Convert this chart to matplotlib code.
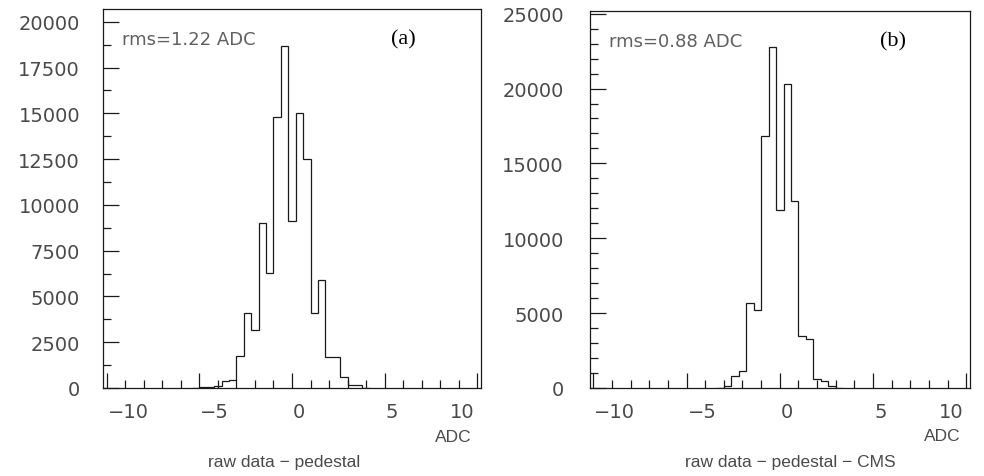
import numpy as np
import matplotlib
matplotlib.use("Agg")
import matplotlib.pyplot as plt
from matplotlib.ticker import MultipleLocator, FixedLocator
from matplotlib.transforms import ScaledTranslation

# ---------------- data ----------------
bin_width = 0.4
x_limits = (-10.2, 10.2)
x_ticks = [-10, -5, 0, 5, 10]
x_tick_labels = ["\u221210", "\u22125", "0", "5", "10"]

# panel (a): raw data - pedestal
a_centers = [-5.2, -4.8, -4.4, -4.0, -3.6, -3.2, -2.8, -2.4, -2.0, -1.6, -1.2, -0.8,
             -0.4, 0.0, 0.4, 0.8, 1.2, 1.6, 2.0, 2.4, 2.8, 3.2, 3.6, 4.0]
a_counts = [10, 30, 60, 120, 380, 420, 1740, 4080, 3160, 9010, 6270, 14780,
            18700, 9140, 15040, 12500, 4120, 5890, 1690, 1690, 590, 140, 140, 20]
a_ymax = 20700
a_yticks = [0, 2500, 5000, 7500, 10000, 12500, 15000, 17500, 20000]
a_rms_text = "rms=1.22 ADC"
a_tag = "(a)"
a_xlabel = "raw data \u2212 pedestal"

# panel (b): raw data - pedestal - CMS
b_centers = [-3.2, -2.8, -2.4, -2.0, -1.6, -1.2, -0.8, -0.4, 0.0, 0.4, 0.8, 1.2,
             1.6, 2.0, 2.4, 2.8, 3.2]
b_counts = [20, 100, 820, 1120, 5650, 5200, 16840, 22800, 11880, 20290, 12460, 3470,
            3290, 600, 450, 120, 30]
b_ymax = 25200
b_yticks = [0, 5000, 10000, 15000, 20000, 25000]
b_rms_text = "rms=0.88 ADC"
b_tag = "(b)"
b_xlabel = "raw data \u2212 pedestal \u2212 CMS"

unit_label = "ADC"

# ---------------- style ----------------
DPI = 100
fig = plt.figure(figsize=(9.84, 4.77), dpi=DPI)
line_col = "#1a1a1a"
text_col = "#4a4a4a"
num_font = "DejaVu Sans"
lab_font = "Liberation Sans"


def make_panel(rect, centers, counts, ymax, yticks, yminor, rms_text, tag,
               ylab_pad, tag_pos):
    ax = fig.add_axes(rect)
    c = np.asarray(centers, dtype=float)
    edges = np.append(c - bin_width / 2, c[-1] + bin_width / 2)
    ax.stairs(counts, edges, baseline=0, color=line_col, lw=0.9)
    ax.set_xlim(*x_limits)
    ax.set_ylim(0, ymax)
    for s in ax.spines.values():
        s.set_linewidth(0.9)
        s.set_color(line_col)

    ax.xaxis.set_major_locator(FixedLocator(x_ticks))
    ax.set_xticklabels(x_tick_labels)
    ax.xaxis.set_minor_locator(MultipleLocator(1))
    ax.yaxis.set_major_locator(FixedLocator(yticks))
    ax.set_yticklabels([str(v) for v in yticks])
    ax.yaxis.set_minor_locator(MultipleLocator(yminor))

    ax.tick_params(axis="both", which="both", direction="in", top=False,
                   right=False, color=line_col, width=0.9)
    ax.tick_params(axis="x", which="major", length=10.8, pad=10,
                   labelsize=14, labelcolor=text_col)
    ax.tick_params(axis="x", which="minor", length=5.8)
    ax.tick_params(axis="y", which="major", length=11.5, pad=ylab_pad,
                   labelsize=14, labelcolor=text_col)
    ax.tick_params(axis="y", which="minor", length=5.8)
    for lab in ax.get_xticklabels() + ax.get_yticklabels():
        lab.set_fontfamily(num_font)

    # x tick labels placed like the original (left-aligned, last one right)
    xl = ax.get_xticklabels()
    for i, lab in enumerate(xl):
        if i == len(xl) - 1:
            lab.set_horizontalalignment("right")
            dx = -3 / DPI
        else:
            lab.set_horizontalalignment("left")
            dx = 1 / DPI
        lab.set_transform(lab.get_transform() + ScaledTranslation(dx, 0, fig.dpi_scale_trans))

    ax.text(0.05, 0.92, rms_text, transform=ax.transAxes, ha="left", va="center",
            fontsize=13, color="#606060", family=num_font)
    ax.text(tag_pos, 0.92, tag, transform=ax.transAxes, ha="center", va="center",
            fontsize=16, color="black", family="Liberation Serif")
    ax.text(0.974, -0.127, unit_label, transform=ax.transAxes, ha="right",
            va="center", fontsize=12.5, color=text_col, family=lab_font)
    return ax


ax_a = make_panel([0.1047, 0.1845, 0.3841, 0.7945], a_centers, a_counts, a_ymax,
                  a_yticks, 1250, a_rms_text, a_tag, 16.5, 0.795)
ax_a.text(0.479, -0.195, a_xlabel, transform=ax_a.transAxes, ha="center",
          va="center", fontsize=12.5, color=text_col, family=lab_font)

ax_b = make_panel([0.5991, 0.1845, 0.3867, 0.791], b_centers, b_counts, b_ymax,
                  b_yticks, 1000, b_rms_text, b_tag, 18.5, 0.798)
ax_b.text(0.527, -0.195, b_xlabel, transform=ax_b.transAxes, ha="center",
          va="center", fontsize=12.5, color=text_col, family=lab_font)

fig.savefig("out.png", dpi=DPI)
